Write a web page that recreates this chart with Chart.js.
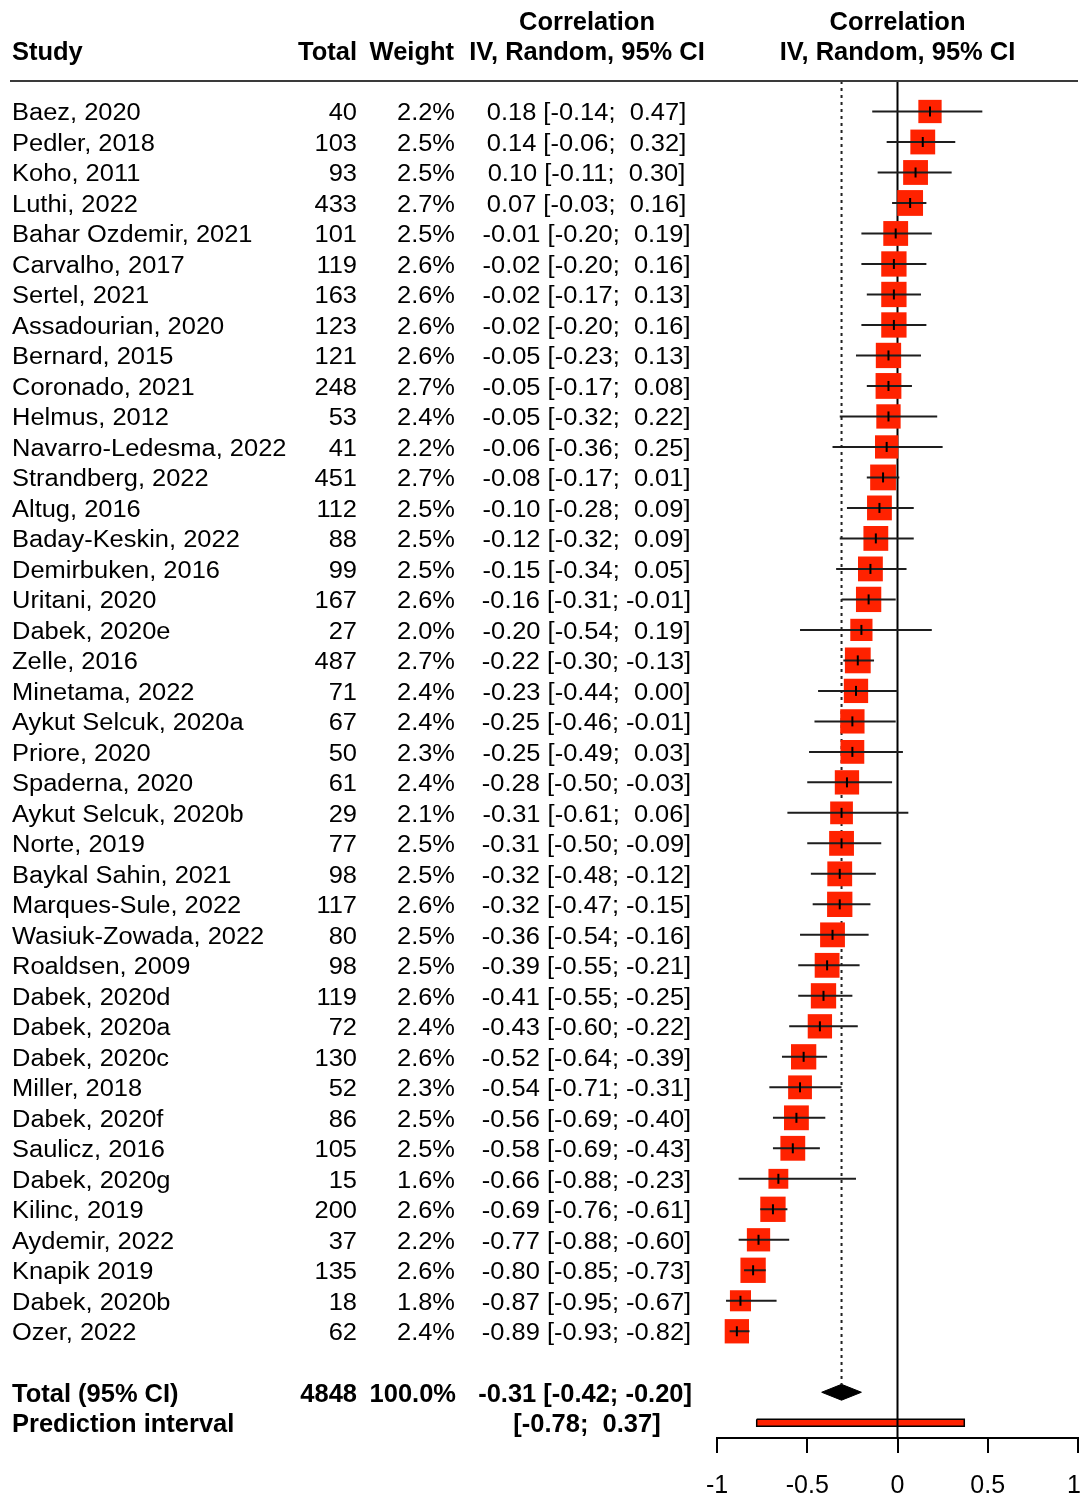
<!DOCTYPE html>
<html>
<head>
<meta charset="utf-8">
<script src="https://cdn.jsdelivr.net/npm/chart.js@4.4.1/dist/chart.umd.min.js"></script>
<style>
  html, body { margin: 0; padding: 0; background: #fff; }
  #wrap { width: 1082px; height: 1496px; }
</style>
</head>
<body>
<div id="wrap"><canvas id="forest" width="1082" height="1496"></canvas></div>
<script>
const studies = ["Baez, 2020", "Pedler, 2018", "Koho, 2011", "Luthi, 2022", "Bahar Ozdemir, 2021",
  "Carvalho, 2017", "Sertel, 2021", "Assadourian, 2020", "Bernard, 2015", "Coronado, 2021",
  "Helmus, 2012", "Navarro-Ledesma, 2022", "Strandberg, 2022", "Altug, 2016", "Baday-Keskin, 2022",
  "Demirbuken, 2016", "Uritani, 2020", "Dabek, 2020e", "Zelle, 2016", "Minetama, 2022",
  "Aykut Selcuk, 2020a", "Priore, 2020", "Spaderna, 2020", "Aykut Selcuk, 2020b", "Norte, 2019",
  "Baykal Sahin, 2021", "Marques-Sule, 2022", "Wasiuk-Zowada, 2022", "Roaldsen, 2009", "Dabek, 2020d",
  "Dabek, 2020a", "Dabek, 2020c", "Miller, 2018", "Dabek, 2020f", "Saulicz, 2016",
  "Dabek, 2020g", "Kilinc, 2019", "Aydemir, 2022", "Knapik 2019", "Dabek, 2020b", "Ozer, 2022"];
const totals = [40, 103, 93, 433, 101, 119, 163, 123, 121, 248, 53, 41, 451, 112, 88, 99, 167, 27, 487, 71,
  67, 50, 61, 29, 77, 98, 117, 80, 98, 119, 72, 130, 52, 86, 105, 15, 200, 37, 135, 18, 62];
const weights = [2.2, 2.5, 2.5, 2.7, 2.5, 2.6, 2.6, 2.6, 2.6, 2.7, 2.4, 2.2, 2.7, 2.5, 2.5, 2.5, 2.6, 2.0, 2.7, 2.4,
  2.4, 2.3, 2.4, 2.1, 2.5, 2.5, 2.6, 2.5, 2.5, 2.6, 2.4, 2.6, 2.3, 2.5, 2.5, 1.6, 2.6, 2.2, 2.6, 1.8, 2.4];
const est = [0.18, 0.14, 0.10, 0.07, -0.01, -0.02, -0.02, -0.02, -0.05, -0.05, -0.05, -0.06, -0.08, -0.10, -0.12,
  -0.15, -0.16, -0.20, -0.22, -0.23, -0.25, -0.25, -0.28, -0.31, -0.31, -0.32, -0.32, -0.36, -0.39, -0.41,
  -0.43, -0.52, -0.54, -0.56, -0.58, -0.66, -0.69, -0.77, -0.80, -0.87, -0.89];
const lower = [-0.14, -0.06, -0.11, -0.03, -0.20, -0.20, -0.17, -0.20, -0.23, -0.17, -0.32, -0.36, -0.17, -0.28, -0.32,
  -0.34, -0.31, -0.54, -0.30, -0.44, -0.46, -0.49, -0.50, -0.61, -0.50, -0.48, -0.47, -0.54, -0.55, -0.55,
  -0.60, -0.64, -0.71, -0.69, -0.69, -0.88, -0.76, -0.88, -0.85, -0.95, -0.93];
const upper = [0.47, 0.32, 0.30, 0.16, 0.19, 0.16, 0.13, 0.16, 0.13, 0.08, 0.22, 0.25, 0.01, 0.09, 0.09,
  0.05, -0.01, 0.19, -0.13, 0.00, -0.01, 0.03, -0.03, 0.06, -0.09, -0.12, -0.15, -0.16, -0.21, -0.25,
  -0.22, -0.39, -0.31, -0.40, -0.43, -0.23, -0.61, -0.60, -0.73, -0.67, -0.82];

// pooled result and prediction interval
const pooled = { total: 4848, weight: "100.0%", est: -0.31, lo: -0.42, hi: -0.20 };
const predInt = [-0.78, 0.37];
const xTicks = [-1, -0.5, 0, 0.5, 1];

const FONT = '"Liberation Sans", Arial, Helvetica, sans-serif';
const RED = '#ff2200';
const TOTAL_ROW = studies.length + 1;
const PRED_ROW = studies.length + 2;

function f2(v) { return v.toFixed(2); }
function ciText(e, lo, hi) {
  return f2(e) + ' [' + f2(lo) + ';' + (hi >= 0 ? '  ' : ' ') + f2(hi) + ']';
}

// CI lines, broken between studies
const ciData = [];
for (let i = 0; i < studies.length; i++) {
  ciData.push({ x: lower[i], y: i }, { x: upper[i], y: i }, { x: NaN, y: NaN });
}
const sqData = est.map((e, i) => ({ x: e, y: i }));
const sqRadius = weights.map(w => 15.7 * Math.sqrt(w) / 2 / Math.SQRT1_2);

const dH = 0.26;
const diamond = [
  { x: pooled.lo, y: TOTAL_ROW }, { x: pooled.est, y: TOTAL_ROW - dH },
  { x: pooled.hi, y: TOTAL_ROW }, { x: pooled.est, y: TOTAL_ROW + dH },
  { x: pooled.lo, y: TOTAL_ROW }
];
const pH = 0.115;
const predBar = [
  { x: predInt[0], y: PRED_ROW - pH }, { x: predInt[1], y: PRED_ROW - pH },
  { x: predInt[1], y: PRED_ROW + pH }, { x: predInt[0], y: PRED_ROW + pH },
  { x: predInt[0], y: PRED_ROW - pH }
];

const textPlugin = {
  id: 'forestText',
  afterDraw(chart) {
    const ctx = chart.ctx;
    const ys = chart.scales.y;
    const xs = chart.scales.x;
    let sx = 1;
    const put = (s, x, row, align) => {
      ctx.save();
      ctx.translate(x, ys.getPixelForValue(row) + 2.5);
      ctx.scale(sx, 1);
      ctx.textAlign = align;
      ctx.fillText(s, 0, 0);
      ctx.restore();
    };
    ctx.save();
    ctx.fillStyle = '#000';
    ctx.textBaseline = 'middle';

    // header rule
    ctx.strokeStyle = '#3a3a3a';
    ctx.lineWidth = 2;
    ctx.beginPath();
    ctx.moveTo(10, ys.getPixelForValue(-1));
    ctx.lineTo(1078, ys.getPixelForValue(-1));
    ctx.stroke();

    ctx.font = 'bold 26px ' + FONT;
    sx = 0.98;
    put('Study', 12, -2, 'left');
    put('Total', 357, -2, 'right');
    put('Weight', 454, -2, 'right');
    put('Correlation', 587, -3, 'center');
    put('IV, Random, 95% CI', 587, -2, 'center');
    put('Correlation', xs.getPixelForValue(0), -3, 'center');
    put('IV, Random, 95% CI', xs.getPixelForValue(0), -2, 'center');

    ctx.font = '23.5px ' + FONT;
    sx = 1.083;
    for (let i = 0; i < studies.length; i++) {
      put(studies[i], 12, i, 'left');
      put(String(totals[i]), 357, i, 'right');
      put(weights[i].toFixed(1) + '%', 455, i, 'right');
      put(ciText(est[i], lower[i], upper[i]), 586.5, i, 'center');
    }

    ctx.font = 'bold 26px ' + FONT;
    sx = 0.98;
    put('Total (95% CI)', 12, TOTAL_ROW, 'left');
    put(String(pooled.total), 357, TOTAL_ROW, 'right');
    put(pooled.weight, 456, TOTAL_ROW, 'right');
    put(ciText(pooled.est, pooled.lo, pooled.hi), 692, TOTAL_ROW, 'right');
    put('Prediction interval', 12, PRED_ROW, 'left');
    put('[' + f2(predInt[0]) + ';  ' + f2(predInt[1]) + ']', 587, PRED_ROW, 'center');

    // x axis tick labels, kept inside the canvas
    ctx.font = '25px ' + FONT;
    ctx.textAlign = 'center';
    for (const v of xTicks) {
      const s = String(v);
      const half = ctx.measureText(s).width / 2;
      const px = Math.min(xs.getPixelForValue(v), chart.width - half - 1);
      ctx.fillText(s, px, xs.top + 48);
    }
    ctx.restore();
  }
};

const forest = new Chart(document.getElementById('forest'), {
  type: 'scatter',
  data: {
    datasets: [
      { // small vertical mark at each estimate
        data: sqData, pointStyle: 'line', pointRotation: 90, pointRadius: 5,
        borderColor: '#000', borderWidth: 2, showLine: false
      },
      { // confidence intervals
        data: ciData, showLine: true, borderColor: '#1e1e1e', borderWidth: 2,
        pointRadius: 0, spanGaps: false
      },
      { // study weights
        data: sqData, pointStyle: 'rect', pointRadius: sqRadius,
        backgroundColor: RED, borderWidth: 0, showLine: false
      },
      { // no-effect line
        data: [{ x: 0, y: -1 }, { x: 0, y: 43.5 }], showLine: true,
        borderColor: '#000', borderWidth: 2, pointRadius: 0
      },
      { // pooled estimate line
        data: [{ x: pooled.est, y: -1 }, { x: pooled.est, y: TOTAL_ROW - dH }], showLine: true,
        borderColor: '#222', borderWidth: 2, borderDash: [3, 4], pointRadius: 0
      },
      { // pooled diamond
        data: diamond, showLine: true, fill: 'shape', backgroundColor: '#000',
        borderColor: '#000', borderWidth: 1, pointRadius: 0, tension: 0
      },
      { // prediction interval
        data: predBar, showLine: true, fill: 'shape', backgroundColor: RED,
        borderColor: '#000', borderWidth: 1.5, pointRadius: 0, tension: 0
      }
    ]
  },
  options: {
    responsive: false,
    animation: false,
    layout: { autoPadding: false, padding: { left: 717, right: 4, top: 81, bottom: 0 } },
    plugins: { legend: { display: false }, tooltip: { enabled: false } },
    scales: {
      x: {
        type: 'linear', min: -1, max: 1,
        afterBuildTicks(s) { s.ticks = xTicks.map(v => ({ value: v })); },
        afterFit(s) { s.height = 58; },
        grid: { drawOnChartArea: false, drawTicks: true, tickLength: 15, color: '#000', lineWidth: 2 },
        border: { display: true, color: '#000', width: 2 },
        ticks: { display: false }
      },
      y: {
        type: 'linear', reverse: true, min: -1, max: 43.5, display: false
      }
    }
  },
  plugins: [textPlugin]
});
</script>
</body>
</html>
